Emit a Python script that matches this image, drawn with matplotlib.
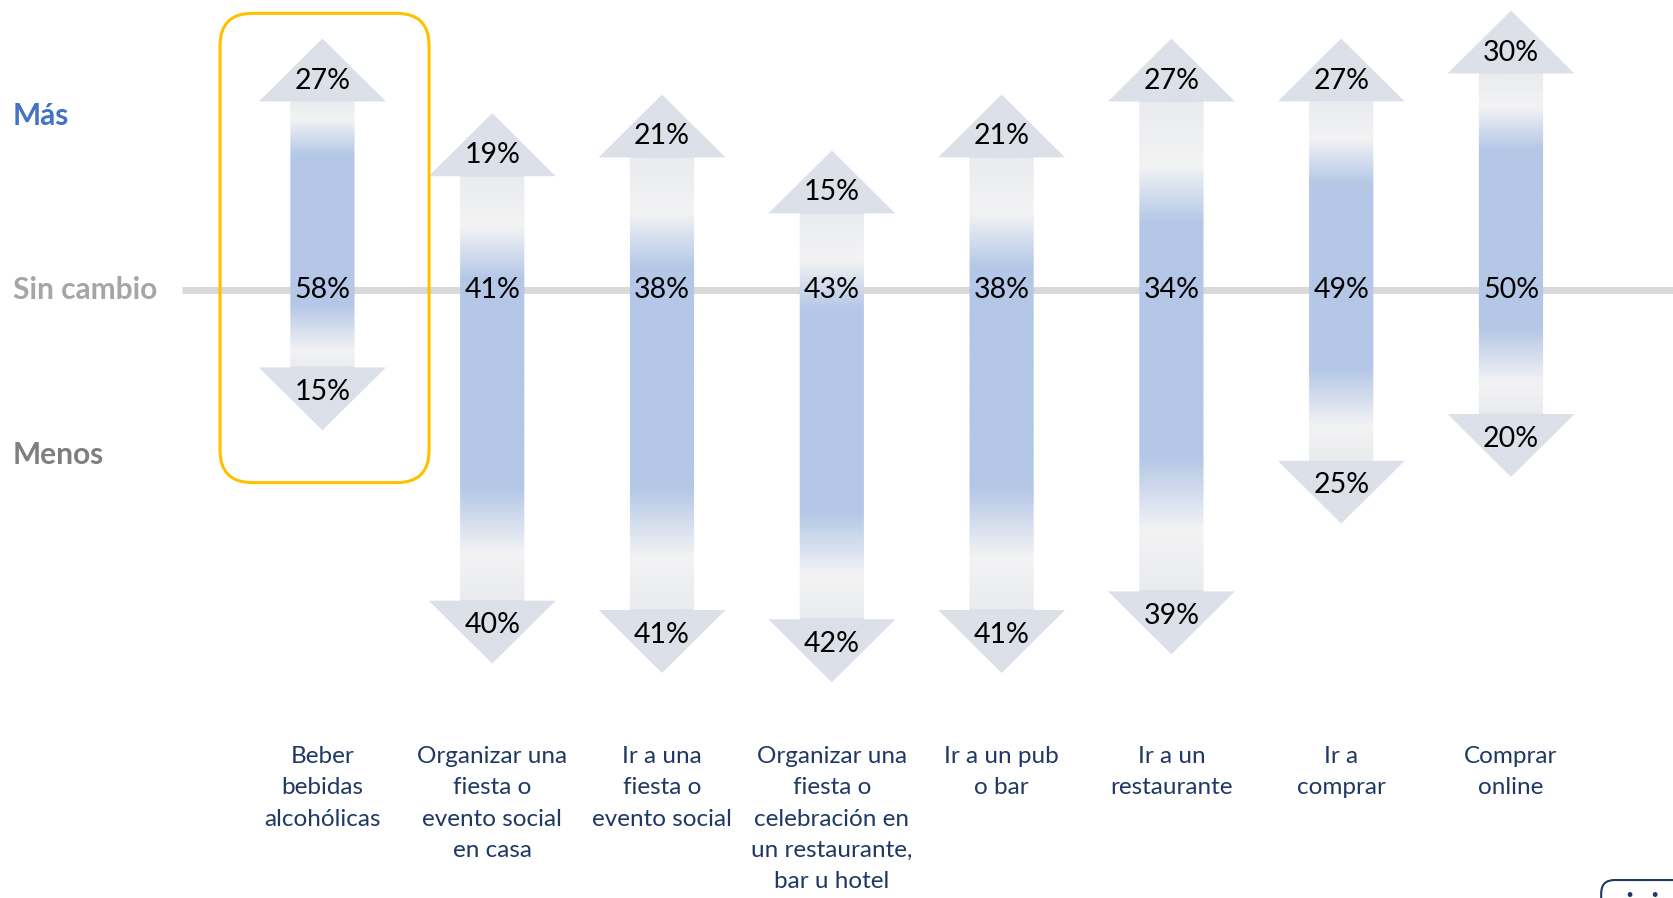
import numpy as np
import matplotlib.pyplot as plt
from matplotlib.patches import Polygon, FancyBboxPatch
from matplotlib.colors import to_rgb
import matplotlib.transforms as mtransforms

plt.rcParams['font.family'] = ['Lato', 'DejaVu Sans']

categorias = ["Beber\nbebidas\nalcohólicas",
              "Organizar una\nfiesta o\nevento social\nen casa",
              "Ir a una\nfiesta o\nevento social",
              "Organizar una\nfiesta o\ncelebración en\nun restaurante,\nbar u hotel",
              "Ir a un pub\no bar",
              "Ir a un\nrestaurante",
              "Ir a\ncomprar",
              "Comprar\nonline"]
mas = [27, 19, 21, 15, 21, 27, 27, 30]
sin_cambio = [58, 41, 38, 43, 38, 34, 49, 50]
menos = [15, 40, 41, 42, 41, 39, 25, 20]

HEAD = '#DCE0E8'
SHAFT = '#E9EBEE'
WHITE = '#F3F3F4'
BLUE = '#B4C7E7'

hw, sw, hl = 0.374, 0.189, 6.75   # head half width, shaft half width, head length

fig = plt.figure(figsize=(16.74, 8.98), dpi=100)
ax = fig.add_axes([0, 0, 1, 1])
ax.set_xlim(-1.899, 7.96)
ax.set_ylim(-65.12, 31.13)
ax.axis('off')

# linea "sin cambio"
ax.plot([-0.83, 8.0], [0, 0], color='#D9D9D9', lw=5, solid_capstyle='butt', zorder=1)


def gradiente(n, hf):
    t = np.linspace(0, 1, n)
    xp = [0, hf, hf + 1e-6, 0.205, 0.30, 0.68, 0.80, 1 - hf - 1e-6, 1 - hf, 1]
    cs = [HEAD, HEAD, SHAFT, WHITE, BLUE, BLUE, WHITE, SHAFT, HEAD, HEAD]
    rgb = np.array([to_rgb(c) for c in cs])
    img = np.stack([np.interp(t, xp, rgb[:, k]) for k in range(3)], axis=1)
    return img[:, None, :]


for i, (up, mid, down) in enumerate(zip(mas, sin_cambio, menos)):
    x = i
    lo = -down
    verts = [(x, up), (x + hw, up - hl), (x + sw, up - hl), (x + sw, lo + hl),
             (x + hw, lo + hl), (x, lo), (x - hw, lo + hl), (x - sw, lo + hl),
             (x - sw, up - hl), (x - hw, up - hl)]
    poly = Polygon(verts, closed=True, facecolor='none', edgecolor='none')
    ax.add_patch(poly)
    hf = hl / (up - lo)
    im = ax.imshow(gradiente(500, hf), extent=[x - hw, x + hw, lo, up],
                   aspect='auto', interpolation='bilinear', zorder=2)
    im.set_clip_path(poly)

    ax.text(x, up - 4.5, f"{up}%", ha='center', va='center', fontsize=20.5, color='black', zorder=3)
    ax.text(x, 0, f"{mid}%", ha='center', va='center', fontsize=20.5, color='black', zorder=3)
    ax.text(x, lo + 4.1, f"{down}%", ha='center', va='center', fontsize=20.5, color='black', zorder=3)

# etiquetas de categoria
trans = mtransforms.blended_transform_factory(ax.transData, ax.transAxes)
for i, cat in enumerate(categorias):
    ax.text(i, 0.169, cat, transform=trans, ha='center', va='top', fontsize=17.5,
            color='#1F3864', linespacing=1.6)

# recuadro destacado
box = FancyBboxPatch((-0.603, -20.6), 1.231, 50.3,
                     boxstyle='round,pad=0,rounding_size=0.19',
                     mutation_aspect=18.2, facecolor='none', edgecolor='#FFC000',
                     lw=2.2, zorder=4)
ax.add_patch(box)

# etiquetas del eje izquierdo
ax.text(0.0078, 0.871, "Más", transform=ax.transAxes, ha='left', va='center',
        fontsize=21.5, fontweight='bold', color='#4472C4')
ax.text(0.0078, 0, "Sin cambio", transform=mtransforms.blended_transform_factory(ax.transAxes, ax.transData),
        ha='left', va='center', fontsize=21.5, fontweight='bold', color='#A6A6A6')
ax.text(0.0078, 0.493, "Menos", transform=ax.transAxes, ha='left', va='center',
        fontsize=21.5, fontweight='bold', color='#7F7F7F')

# logo
logo = FancyBboxPatch((0.9565, -0.05), 0.08, 0.07, transform=ax.transAxes,
                      boxstyle='round,pad=0,rounding_size=0.008', mutation_aspect=1.86,
                      facecolor='white', edgecolor='#1F3864', lw=1.5, clip_on=False)
ax.add_patch(logo)
ax.text(0.962, -0.019, "vini", transform=ax.transAxes, ha='left', va='baseline',
        fontsize=22, fontweight='bold', color='#1F3864')

fig.savefig('out.png', dpi=100)
